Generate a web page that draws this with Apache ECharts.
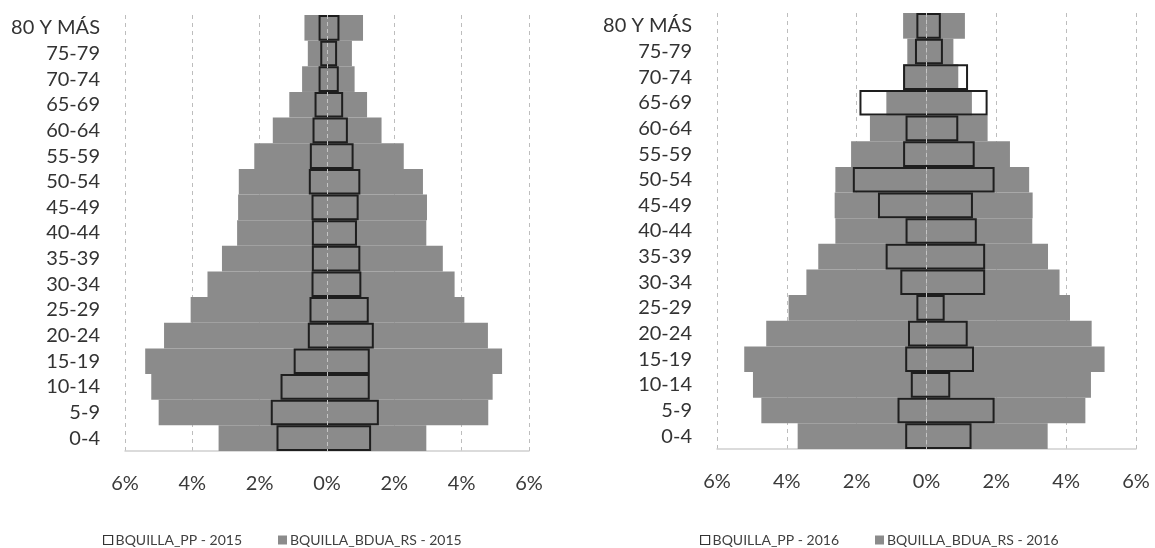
<!DOCTYPE html>
<html>
<head>
<meta charset="utf-8">
<script src="https://cdn.jsdelivr.net/npm/echarts@6/dist/echarts.min.js"></script>
<style>
html,body{margin:0;padding:0;background:#fff;}
#chart{width:1155px;height:548px;}
</style>
</head>
<body>
<div id="chart"></div>
<script>
// Age groups, top to bottom
const categories = ['80 Y MÁS','75-79','70-74','65-69','60-64','55-59','50-54','45-49','40-44','35-39','30-34','25-29','20-24','15-19','10-14','5-9','0-4'];
const xTicks = [-6, -4, -2, 0, 2, 4, 6];

// 2015 (percent) — left side given as magnitudes
const bdua2015Left  = [0.67,0.57,0.74,1.12,1.61,2.16,2.62,2.64,2.67,3.12,3.55,4.05,4.84,5.40,5.22,5.00,3.22];
const bdua2015Right = [1.07,0.74,0.82,1.19,1.62,2.28,2.85,2.97,2.95,3.44,3.79,4.08,4.78,5.20,4.92,4.79,2.95];
const pp2015Left    = [0.25,0.20,0.25,0.37,0.43,0.51,0.54,0.46,0.45,0.45,0.46,0.52,0.57,0.99,1.38,1.67,1.50];
const pp2015Right   = [0.37,0.30,0.35,0.48,0.62,0.79,0.99,0.94,0.89,0.99,1.02,1.24,1.39,1.27,1.27,1.54,1.31];

// 2016 (percent)
const bdua2016Left  = [0.67,0.55,0.67,1.15,1.62,2.16,2.61,2.63,2.61,3.10,3.44,3.95,4.59,5.22,4.97,4.73,3.69];
const bdua2016Right = [1.10,0.77,0.91,1.30,1.75,2.39,2.94,3.04,3.03,3.48,3.81,4.11,4.73,5.10,4.71,4.55,3.47];
const pp2016Left    = [0.29,0.33,0.67,1.92,0.60,0.67,2.11,1.39,0.60,1.17,0.75,0.29,0.53,0.61,0.45,0.83,0.61];
const pp2016Right   = [0.41,0.47,1.19,1.75,0.91,1.38,1.95,1.33,1.44,1.68,1.68,0.52,1.18,1.36,0.68,1.95,1.29];

const FONT = 'Lato, "Open Sans", sans-serif';
const GRAY = '#8b8b8b';

function xAxisFor(idx){
  return {
    type:'value', gridIndex: idx, min: xTicks[0], max: xTicks[xTicks.length-1], interval: 2,
    axisLine:{show:true, lineStyle:{color:'#d0d0d0', width:1.5}},
    axisTick:{show:false},
    axisLabel:{color:'#3a3a3a', fontSize:20, fontFamily:FONT, margin:23,
      formatter: v => Math.abs(v) + '%'},
    splitLine:{show:true, lineStyle:{color:'#bdbdbd', type:[4,4], width:1}}
  };
}
function yAxisFor(idx){
  return {
    type:'category', gridIndex: idx, data: categories, inverse: true,
    axisLine:{show:false}, axisTick:{show:false},
    axisLabel:{color:'#333', fontSize:20, fontFamily:FONT, margin:25, interval:0, hideOverlap:false},
    splitLine:{show:false}
  };
}
function seriesFor(idx, year, bl, br, pl, pr){
  const neg = a => a.map(v => -v);
  const span = pl.map((v,i) => +(v + pr[i]).toFixed(2));
  const bduaName = 'BQUILLA_BDUA_RS - ' + year;
  const ppName = 'BQUILLA_PP - ' + year;
  return [
    {name: bduaName, type:'bar', xAxisIndex: idx, yAxisIndex: idx, data: neg(bl),
     barGap:'-100%', barCategoryGap:'0%', itemStyle:{color:GRAY}, silent:true},
    {name: bduaName, type:'bar', xAxisIndex: idx, yAxisIndex: idx, data: br,
     barGap:'-100%', barCategoryGap:'0%', itemStyle:{color:GRAY}, silent:true,
     markLine:{silent:true, symbol:'none', label:{show:false},
       lineStyle:{color:'#c4c4c4', type:[4,3], width:1}, data:[{xAxis:0}]}},
    {name: 'base' + year, type:'bar', xAxisIndex: idx, yAxisIndex: idx, data: neg(pl),
     stack:'pp' + year, stackStrategy:'all', barGap:'-100%', barCategoryGap:'0%',
     itemStyle:{color:'rgba(0,0,0,0)', borderWidth:0}, silent:true},
    {name: ppName, type:'bar', xAxisIndex: idx, yAxisIndex: idx, data: span,
     stack:'pp' + year, stackStrategy:'all', barGap:'-100%', barCategoryGap:'0%',
     itemStyle:{color:'rgba(0,0,0,0)', borderColor:'#1e1e1e', borderWidth:2}, silent:true}
  ];
}
function legendFor(left, year){
  return {
    left: left, top: 528, itemWidth: 9, itemHeight: 9, itemGap: 36,
    icon: 'rect', selectedMode: false,
    textStyle:{color:'#404040', fontSize:14, fontFamily:FONT, padding:[0,0,0,-2]},
    data:[
      {name:'BQUILLA_PP - ' + year, itemStyle:{color:'#ffffff', borderColor:'#333', borderWidth:1.2}},
      {name:'BQUILLA_BDUA_RS - ' + year, itemStyle:{color:GRAY, borderWidth:0}}
    ]
  };
}

const chart = echarts.init(document.getElementById('chart'), null, {renderer:'canvas'});
chart.setOption({
  backgroundColor:'#ffffff',
  animation:false,
  grid:[
    {left:125, right:626, top:15, bottom:97},
    {left:717, right:19, top:13, bottom:99}
  ],
  xAxis:[xAxisFor(0), xAxisFor(1)],
  yAxis:[yAxisFor(0), yAxisFor(1)],
  legend:[legendFor(98, '2015'), legendFor(695, '2016')],
  series:[].concat(
    seriesFor(0, '2015', bdua2015Left, bdua2015Right, pp2015Left, pp2015Right),
    seriesFor(1, '2016', bdua2016Left, bdua2016Right, pp2016Left, pp2016Right)
  )
});
</script>
</body>
</html>
